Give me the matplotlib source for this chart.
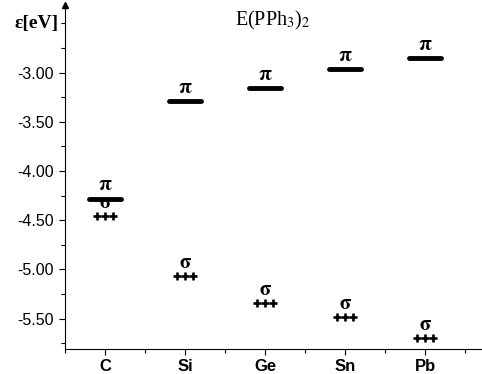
import numpy as np
import matplotlib
matplotlib.use("Agg")
import matplotlib.pyplot as plt
from matplotlib.ticker import MultipleLocator

elements = ["C", "Si", "Ge", "Sn", "Pb"]
pi_levels = [-4.28, -3.29, -3.16, -2.965, -2.855]
sigma_levels = [-4.46, -5.07, -5.34, -5.485, -5.70]
yticks = [-3.0, -3.5, -4.0, -4.5, -5.0, -5.5]

plt.rcParams['font.family'] = ['Liberation Sans', 'DejaVu Sans']

fig = plt.figure(figsize=(4.82, 3.74), dpi=100)
ax = fig.add_axes([0.135, 0.067, 0.865, 0.92])

xs = np.arange(1, len(elements) + 1)

# pi levels: thick horizontal bars with a pi above
ax.hlines(pi_levels, xs - 0.2, xs + 0.2, color='k', lw=3.5, capstyle='round')
for x, e in zip(xs, pi_levels):
    ax.annotate(r"$\mathbf{\pi}$", (x, e), xytext=(0, 3), textcoords='offset points',
                ha='center', va='bottom', fontsize=15, math_fontfamily='stix')

# sigma levels: +++ with a sigma above
for x, e in zip(xs, sigma_levels):
    ax.plot([x - 0.105, x, x + 0.105], [e, e, e], ls='none', marker='+', ms=5.5,
            mew=1.9, color='k')
    ax.annotate(r"$\mathbf{\sigma}$", (x, e), xytext=(0, 3), textcoords='offset points',
                ha='center', va='bottom', fontsize=15, math_fontfamily='stix')

ax.set_xlim(0.5, 5.7125)
ax.set_ylim(-5.808, -2.312)
ax.set_xticks(xs)
ax.set_xticklabels(elements, fontweight='bold', fontsize=12)
ax.xaxis.set_minor_locator(MultipleLocator(0.5))
ax.set_yticks(yticks)
ax.set_yticklabels(["%.2f" % t for t in yticks], fontsize=11.5)
ax.yaxis.set_minor_locator(MultipleLocator(0.25))
ax.tick_params(which='major', length=4, width=0.8)
ax.tick_params(which='minor', length=3, width=0.8)
ax.tick_params(axis='y', pad=4)

for s in ['top', 'right']:
    ax.spines[s].set_visible(False)

# arrow head on top of y axis
ax.plot(0, 1, marker='^', ms=4, color='k', transform=ax.transAxes, clip_on=False)

fig.text(0.565, 0.945, r"E(PPh$_3$)$_2$", fontsize=14.5, fontfamily='Liberation Serif',
         ha='center', va='center', math_fontfamily='stix')
fig.text(0.075, 0.936, "ε[eV]", fontsize=14, fontfamily='Liberation Serif',
         fontweight='bold', ha='center', va='center')

fig.savefig("out.png", dpi=100)
